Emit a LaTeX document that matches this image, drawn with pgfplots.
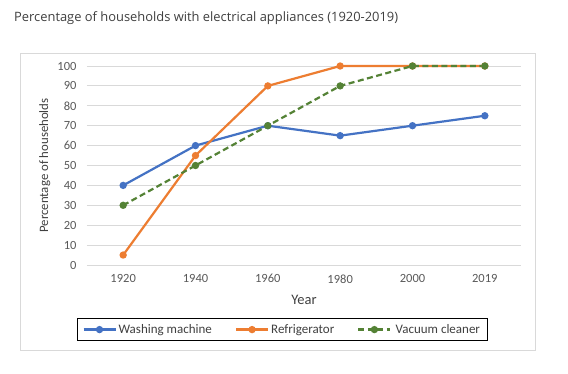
\documentclass[border=0pt]{standalone}
\usepackage{fontspec}
\setmainfont{Carlito}
\newfontfamily\titlefont{Open Sans}
\usepackage{pgfplots}
\pgfplotsset{compat=1.18}
\definecolor{wm}{HTML}{4472C4}
\definecolor{rf}{HTML}{ED7D31}
\definecolor{vc}{HTML}{548235}
\definecolor{gridc}{HTML}{D9D9D9}
\definecolor{lbl}{HTML}{595959}
\definecolor{ttl}{HTML}{404040}
\begin{document}
\begin{tikzpicture}
\fill[white] (0pt,0pt) rectangle (568pt,374pt);
\draw[gridc, line width=0.8pt] (20pt,24pt) rectangle (535pt,321pt);
\node[anchor=west, text=ttl, inner sep=0pt] at (14pt,356pt) {\titlefont\fontsize{12.9}{15}\selectfont Percentage of households with electrical appliances (1920-2019)};
\begin{axis}[
  at={(87pt,109pt)}, anchor=south west,
  scale only axis, width=434pt, height=199pt,
  xmin=-0.5, xmax=5.5, ymin=0, ymax=100,
  ytick={0,10,...,100},
  xtick={0,...,5},
  xticklabels={1920,1940,1960,1980,2000,2019},
  ymajorgrids, major grid style={gridc, line width=0.8pt},
  axis line style={draw=none},
  major tick length=0pt,
  clip=false,
  /pgf/number format/assume math mode=true,
  tick label style={font=\fontsize{12.5}{14}\selectfont, text=lbl},
  xticklabel style={yshift=-6pt},
  yticklabel style={xshift=-7pt},
  xlabel={Year},
  ylabel={Percentage of households},
  xlabel style={at={(axis description cs:0.5,-0.176)}, anchor=center, font=\fontsize{14.5}{16}\selectfont, text=ttl},
  ylabel style={at={(axis description cs:-0.097,0.5)}, anchor=center, font=\fontsize{12.8}{14}\selectfont, text=ttl},
  legend columns=3,
  legend style={at={(-0.023,-0.266)}, anchor=north west, draw=black, line width=0.8pt,
    font=\fontsize{13}{15}\selectfont, text=ttl, inner xsep=5pt, inner ysep=4pt,
    /tikz/every even column/.append style={column sep=21pt}},
  legend image code/.code={\draw[mark repeat=2,mark phase=2,#1] plot coordinates {(0pt,0pt) (16pt,0pt) (32pt,0pt)};},
  every axis plot/.append style={line width=2.2pt, mark=*, mark size=2.5pt},
]
\addplot[wm, mark options={fill=wm, draw=wm, solid}] coordinates {(0,40) (1,60) (2,70) (3,65) (4,70) (5,75)};
\addlegendentry{Washing machine}
\addplot[rf, mark options={fill=rf, draw=rf, solid}] coordinates {(0,5) (1,55) (2,90) (3,100) (4,100) (5,100)};
\addlegendentry{Refrigerator}
\addplot[vc, dash pattern=on 6pt off 3.5pt, mark options={fill=vc, draw=vc, solid}] coordinates {(0,30) (1,50) (2,70) (3,90) (4,100) (5,100)};
\addlegendentry{\,Vacuum cleaner}
\end{axis}
\end{tikzpicture}
\end{document}
